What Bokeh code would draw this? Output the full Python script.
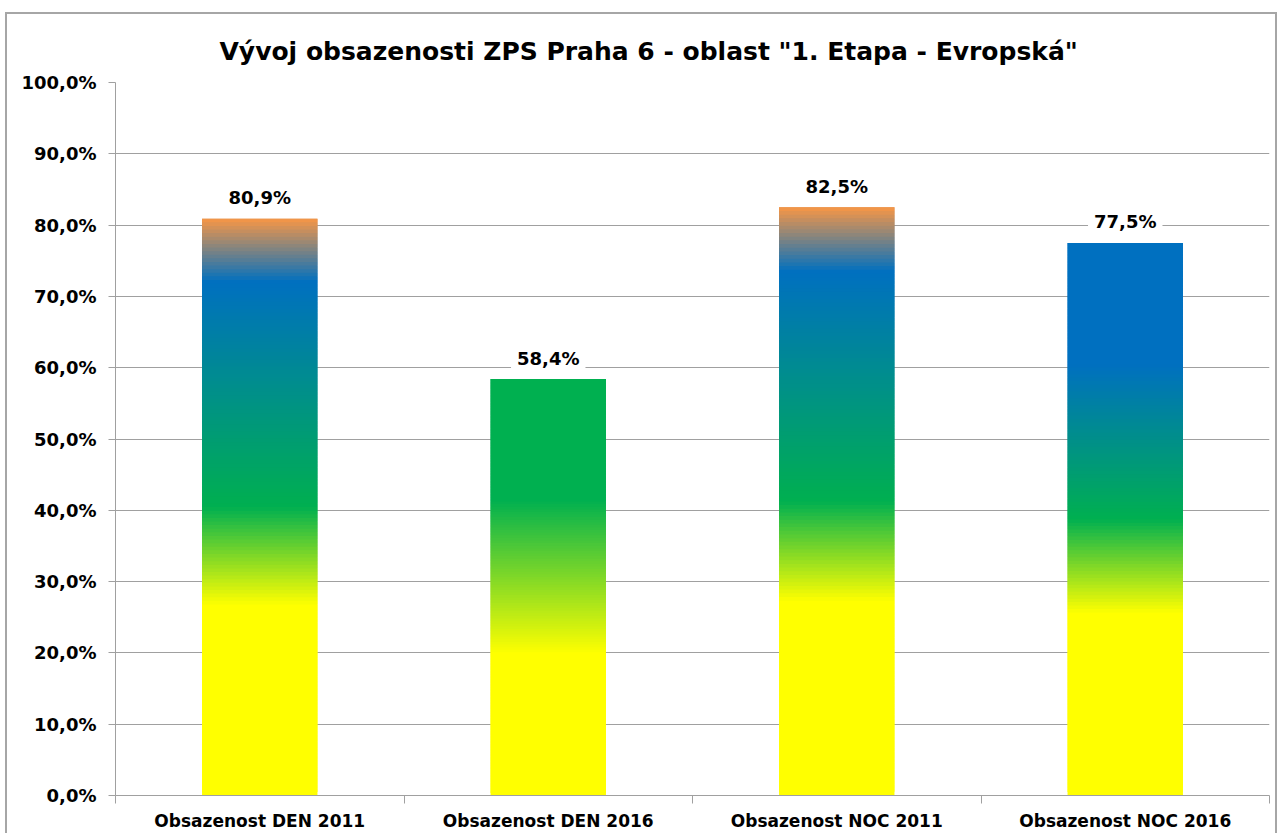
import numpy as np
from bokeh.plotting import figure
from bokeh.models import Range1d, FixedTicker, Label
from bokeh.embed import file_html
from bokeh.resources import INLINE

# ---------------- data ----------------
title_text = 'Vývoj obsazenosti ZPS Praha 6 - oblast "1. Etapa - Evropská"'
categories = ["Obsazenost DEN 2011", "Obsazenost DEN 2016",
              "Obsazenost NOC 2011", "Obsazenost NOC 2016"]
occupancy = [80.9, 58.4, 82.5, 77.5]
value_labels = ["80,9%", "58,4%", "82,5%", "77,5%"]
y_ticks = [0, 10, 20, 30, 40, 50, 60, 70, 80, 90, 100]
y_tick_labels = ["0,0%", "10,0%", "20,0%", "30,0%", "40,0%", "50,0%",
                 "60,0%", "70,0%", "80,0%", "90,0%", "100,0%"]

# ---------------- style ----------------
FONT = "DejaVu Sans"
YELLOW, GREEN, BLUE, ORANGE = "#FFFF00", "#00B050", "#0070C0", "#F79646"
gradients = [
    [(0.0, YELLOW), (0.33, YELLOW), (0.50, GREEN), (0.89, BLUE), (1.0, ORANGE)],
    [(0.0, YELLOW), (0.34, YELLOW), (0.71, GREEN), (1.0, GREEN)],
    [(0.0, YELLOW), (0.33, YELLOW), (0.50, GREEN), (0.89, BLUE), (1.0, ORANGE)],
    [(0.0, YELLOW), (0.33, YELLOW), (0.50, GREEN), (0.78, BLUE), (1.0, BLUE)],
]
BAR_W = 0.40
N_SLICES = 160
BORDER = "2px solid #A6A6A6"


def hex2rgb(h):
    h = h.lstrip("#")
    return np.array([int(h[i:i + 2], 16) for i in (0, 2, 4)], dtype=float)


def grad_color(stops, f):
    for (f0, c0), (f1, c1) in zip(stops[:-1], stops[1:]):
        if f0 <= f <= f1:
            t = 0.0 if f1 == f0 else (f - f0) / (f1 - f0)
            rgb = hex2rgb(c0) * (1 - t) + hex2rgb(c1) * t
            return "#%02x%02x%02x" % tuple(int(round(v)) for v in rgb)
    return stops[-1][1]


n = len(categories)
p = figure(frame_width=1154, frame_height=713,
           x_range=Range1d(0, n), y_range=Range1d(0, 100),
           output_backend="svg", toolbar_location=None,
           min_border_left=108, min_border_right=6,
           min_border_top=68, min_border_bottom=38,
           background_fill_color="white", border_fill_color="white",
           outline_line_color=None,
           styles={"border-left": BORDER, "border-top": BORDER,
                   "border-right": BORDER, "margin-left": "5px",
                   "margin-top": "12px"})

# title
p.title.text = title_text
p.title.align = "left"
p.title.offset = 104
p.title.standoff = 34
p.title.text_font = FONT
p.title.text_font_style = "bold"
p.title.text_font_size = "25px"
p.title.text_color = "#000000"

# gradient bars built from slices
lefts, rights, bottoms, tops, colors = [], [], [], [], []
for i, (v, stops) in enumerate(zip(occupancy, gradients)):
    cx = i + 0.5
    for k in range(N_SLICES):
        f_mid = (k + 0.5) / N_SLICES
        lefts.append(cx - BAR_W / 2)
        rights.append(cx + BAR_W / 2)
        bottoms.append(v * k / N_SLICES)
        tops.append(min(v, v * (k + 2) / N_SLICES))
        colors.append(grad_color(stops, f_mid))
p.quad(left=lefts, right=rights, bottom=bottoms, top=tops,
       fill_color=colors, line_color=None)

# value labels
for i, (v, t) in enumerate(zip(occupancy, value_labels)):
    p.add_layout(Label(x=i + 0.5, y=v, y_offset=21, text=t,
                       text_align="center", text_baseline="middle",
                       text_font=FONT, text_font_style="bold",
                       text_font_size="18px", text_color="#000000",
                       background_fill_color="white", padding=6))

GRAY = "#A0A0A0"
# y axis
p.yaxis.ticker = FixedTicker(ticks=y_ticks, minor_ticks=[])
p.yaxis.major_label_overrides = {t: l for t, l in zip(y_ticks, y_tick_labels)}
p.yaxis.axis_line_color = GRAY
p.yaxis.major_tick_line_color = GRAY
p.yaxis.major_tick_out = 7
p.yaxis.major_tick_in = 0
p.yaxis.major_label_standoff = 12
p.yaxis.major_label_text_font = FONT
p.yaxis.major_label_text_font_style = "bold"
p.yaxis.major_label_text_font_size = "18px"
p.yaxis.major_label_text_color = "#000000"

# x axis: ticks at category boundaries, labels at centres
centers = [i + 0.5 for i in range(n)]
p.xaxis.ticker = FixedTicker(ticks=centers, minor_ticks=list(range(n + 1)))
p.xaxis.major_label_overrides = {c: l for c, l in zip(centers, categories)}
p.xaxis.axis_line_color = GRAY
p.xaxis.major_tick_out = 0
p.xaxis.major_tick_in = 0
p.xaxis.minor_tick_out = 8
p.xaxis.minor_tick_in = 0
p.xaxis.minor_tick_line_color = GRAY
p.xaxis.major_label_standoff = 7
p.xaxis.major_label_text_font = FONT
p.xaxis.major_label_text_font_style = "bold"
p.xaxis.major_label_text_font_size = "17px"
p.xaxis.major_label_text_color = "#000000"

p.xgrid.grid_line_color = None
p.ygrid.ticker = FixedTicker(ticks=y_ticks)
p.ygrid.grid_line_color = GRAY
p.ygrid.grid_line_width = 1

open("out.html", "w").write(file_html(p, INLINE))
